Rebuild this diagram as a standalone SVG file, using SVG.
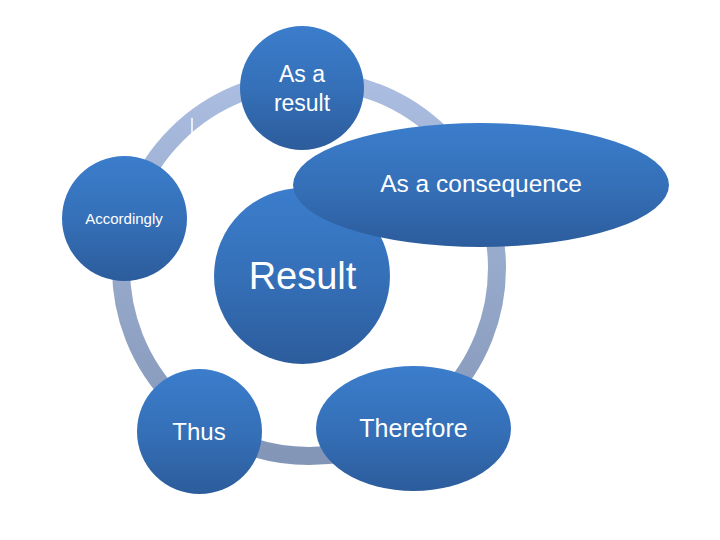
<svg xmlns="http://www.w3.org/2000/svg" width="720" height="540" viewBox="0 0 720 540">
<style>
.node{fill:url(#ng)}
.t{font-family:"Liberation Sans",Arial,sans-serif;fill:#ffffff;text-anchor:middle}
</style>
<defs>
<linearGradient id="ng" x1="0" y1="0" x2="0" y2="1">
<stop offset="0" stop-color="#3b7dcc"/>
<stop offset="0.5" stop-color="#3570b8"/>
<stop offset="1" stop-color="#2c5c9c"/>
</linearGradient>
<linearGradient id="rg" gradientUnits="userSpaceOnUse" x1="0" y1="80" x2="0" y2="466">
<stop offset="0" stop-color="#abbde0"/>
<stop offset="1" stop-color="#8395b6"/>
</linearGradient>
</defs>
<rect width="720" height="540" fill="#ffffff"/>
<g id="connectors">
<circle cx="309" cy="268" r="188" fill="none" stroke="url(#rg)" stroke-width="18"/>
<line x1="192" y1="118" x2="192" y2="140" stroke="#ffffff" stroke-width="1.5"/>
</g>
<g id="node-as-a-result">
<circle class="node" cx="302" cy="88" r="62"/>
<text class="t" x="302" y="82" font-size="23">As a</text>
<text class="t" x="302" y="111" font-size="23">result</text>
</g>
<g id="node-accordingly">
<circle class="node" cx="124.5" cy="218.5" r="62.5"/>
<text class="t" x="124" y="224" font-size="15">Accordingly</text>
</g>
<g id="node-result">
<circle class="node" cx="302" cy="276" r="88"/>
<text class="t" x="302.5" y="289" font-size="38">Result</text>
</g>
<g id="node-as-a-consequence">
<ellipse class="node" cx="481" cy="185" rx="188" ry="62"/>
<text class="t" x="481" y="192" font-size="24.5">As a consequence</text>
</g>
<g id="node-thus">
<circle class="node" cx="199.5" cy="431.5" r="62.5"/>
<text class="t" x="199" y="440" font-size="24">Thus</text>
</g>
<g id="node-therefore">
<ellipse class="node" cx="413.5" cy="428.5" rx="97.5" ry="62.5"/>
<text class="t" x="413.5" y="437" font-size="25">Therefore</text>
</g>
</svg>
